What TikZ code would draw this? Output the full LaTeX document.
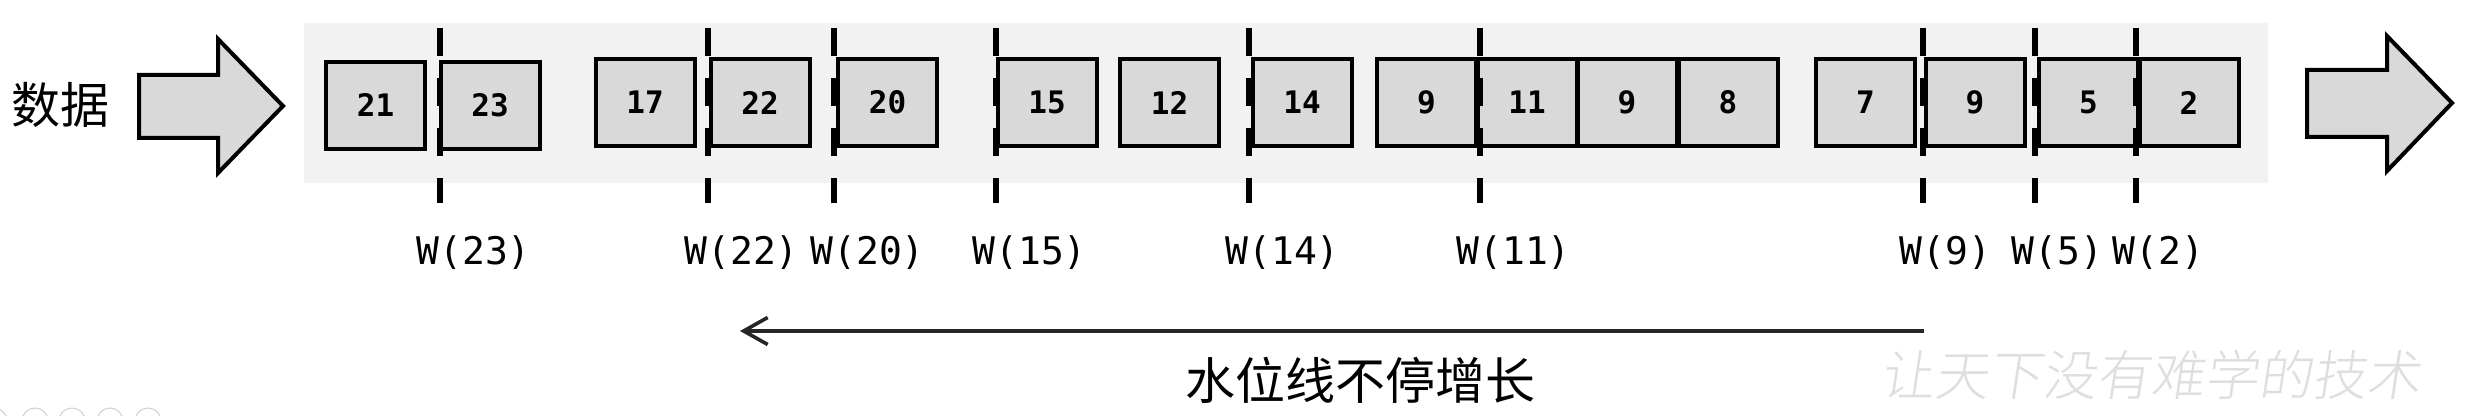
\documentclass[tikz,border=0pt]{standalone}
\usepackage{fontspec}
\newfontfamily\cjk{Noto Sans CJK SC}
\newfontfamily\cjklight{Noto Sans CJK SC Light}
\newfontfamily\monof{DejaVu Sans Mono}
\usetikzlibrary{arrows.meta}
\definecolor{bgpanel}{HTML}{F2F2F2}
\definecolor{cellfill}{HTML}{D9D9D9}
\definecolor{linedark}{HTML}{262626}
\definecolor{wmark}{HTML}{DEDEDE}
\definecolor{uicircle}{HTML}{D0D0D0}
\tikzset{
  cell/.style={draw=black, line width=2pt, fill=cellfill, minimum width=49.5pt, minimum height=43.5pt, inner sep=0pt,
    font=\monof\bfseries\fontsize{15.5}{16}\selectfont},
  wline/.style={line width=3.4pt, dash pattern=on 14pt off 11pt},
  wlabel/.style={inner sep=0pt, font=\monof\fontsize{19}{20}\selectfont},
  blockarrow/.style={draw=black, line width=2pt, fill=cellfill, line join=miter},
}
\begin{document}
\begin{tikzpicture}[x=0.5pt,y=-0.5pt]
\useasboundingbox (0,0) rectangle (2476,416);
\clip (0,0) rectangle (2476,416);
% background panel
\fill[bgpanel] (304,23) rectangle (2268,183);
% input/output block arrows
\draw[blockarrow] (139,75) -- (218,75) -- (218,39) -- (283,106) -- (218,173) -- (218,138) -- (139,138) -- cycle;
\draw[blockarrow] (2307,70) -- (2387,70) -- (2387,36) -- (2452,103) -- (2387,171) -- (2387,137) -- (2307,137) -- cycle;
\node[font=\cjk\fontsize{24.5}{26}\selectfont, inner sep=0pt] (data) at (60,105) {数据};
% cells
\node[cell] (c21) at (375.5,105.5) {21};
\node[cell] (c23) at (490,105.5) {23};
\node[cell] (c17) at (645,102.5) {17};
\node[cell] (c22) at (760,102.5) {22};
\node[cell] (c20) at (887.5,102.5) {20};
\node[cell] (c15) at (1047,102.5) {15};
\node[cell] (c12) at (1169.5,102.5) {12};
\node[cell] (c14) at (1302,102.5) {14};
\node[cell] (c9a) at (1426.5,102.5) {9};
\node[cell] (c11) at (1527,102.5) {11};
\node[cell] (c9b) at (1627,102.5) {9};
\node[cell] (c8) at (1728,102.5) {8};
\node[cell] (c7) at (1865.5,102.5) {7};
\node[cell] (c9c) at (1975,102.5) {9};
\node[cell] (c5) at (2088.5,102.5) {5};
\node[cell] (c2) at (2189,102.5) {2};
% watermark lines
\foreach \n/\x in {23/440,22/708,20/834,15/996,14/1249,11/1480,9/1923,5/2035,2/2136}{
  \coordinate (t\n) at (\x,28);
  \coordinate (b\n) at (\x,203);
  \draw[wline] (t\n) -- (b\n);
  \node[wlabel, anchor=west] (w\n) at (\x-24,253) {W(\n)};
}
% watermark growth arrow
\coordinate (gstart) at (1924,331);
\coordinate (gend) at (740,331);
\draw[linedark, line width=1.8pt, -{Straight Barb[length=12pt,width=13.5pt]}] (gstart) -- (gend);
\node[font=\cjk\fontsize{25}{26}\selectfont, inner sep=0pt] (grow) at (1360,380) {水位线不停增长};
% brand watermark
\node[font=\cjklight\fontsize{27}{28}\selectfont, text=wmark, inner sep=0pt, xslant=0.15] (brand) at (2154,375) {让天下没有难学的技术};
% faint ui circles at the bottom edge
\foreach \cx in {-6,35,72,110,148}{
  \draw[uicircle, line width=0.5pt] (\cx,421) circle[radius=6.5pt];
}
\end{tikzpicture}
\end{document}
